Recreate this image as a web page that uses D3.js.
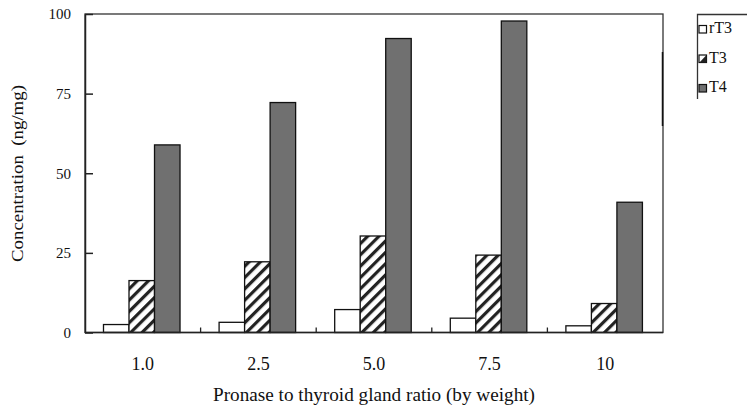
<!DOCTYPE html>
<html>
<head>
<meta charset="utf-8">
<script src="https://cdn.jsdelivr.net/npm/d3@7"></script>
<style>
  body { margin: 0; background: #fff; }
  svg text { font-family: "Liberation Serif", serif !important; fill: #111; }
</style>
</head>
<body>
<div id="chart"></div>
<script>
// data
const ratios = ["1.0", "2.5", "5.0", "7.5", "10"];
const seriesNames = ["rT3", "T3", "T4"];
const rT3 = [2.5, 3.2, 7.2, 4.5, 2.1];
const T3 = [16.3, 22.2, 30.3, 24.3, 9.1];
const T4 = [58.9, 72.2, 92.3, 97.8, 40.9];
const yTicks = [0, 25, 50, 75, 100];

const seriesValues = { rT3: rT3, T3: T3, T4: T4 };

const width = 747, height = 410;
const margin = { top: 14, left: 85, right: 84, bottom: 77.5 };
const innerWidth = width - margin.left - margin.right;
const innerHeight = height - margin.top - margin.bottom;

const svg = d3.select("#chart").append("svg")
    .attr("width", width)
    .attr("height", height)
    .style("font-family", "'Liberation Serif', serif");

// hatch pattern for T3
const defs = svg.append("defs");
const pat = defs.append("pattern")
    .attr("id", "hatch")
    .attr("patternUnits", "userSpaceOnUse")
    .attr("width", 8).attr("height", 8)
    .attr("patternTransform", "rotate(45)");
pat.append("rect").attr("width", 8).attr("height", 8).attr("fill", "#fff");
pat.append("rect").attr("x", 0).attr("width", 3.2).attr("height", 8).attr("fill", "#222");

const fills = { rT3: "#fff", T3: "url(#hatch)", T4: "#707070" };

const g = svg.append("g").attr("transform", `translate(${margin.left},${margin.top})`);

// scales
const x0 = d3.scaleBand().domain(ratios).range([0, innerWidth]).padding(0);
const x1 = d3.scaleBand().domain(seriesNames)
    .range([x0.bandwidth() * 0.16, x0.bandwidth() * 0.822]).padding(0);
const y = d3.scaleLinear().domain([0, 100]).range([innerHeight, 0]);

// bars
const groups = g.selectAll("g.grp")
    .data(ratios)
    .enter().append("g")
    .attr("class", "grp")
    .attr("transform", d => `translate(${x0(d)},0)`);

groups.selectAll("rect")
    .data((d, i) => seriesNames.map(s => ({ s: s, v: seriesValues[s][i] })))
    .enter().append("rect")
    .attr("x", d => x1(d.s))
    .attr("y", d => y(d.v))
    .attr("width", x1.bandwidth())
    .attr("height", d => innerHeight - y(d.v))
    .attr("fill", d => fills[d.s])
    .attr("stroke", "#111")
    .attr("stroke-width", 1.3);

// frame
g.append("rect")
    .attr("width", innerWidth)
    .attr("height", innerHeight)
    .attr("fill", "none")
    .attr("stroke", "#333")
    .attr("stroke-width", 1.3);

// small thicker piece on the right border as in the original
g.append("line")
    .attr("x1", innerWidth - 0.5).attr("x2", innerWidth - 0.5)
    .attr("y1", 38).attr("y2", 112)
    .attr("stroke", "#111").attr("stroke-width", 1.5);

// y axis
const yAxis = d3.axisLeft(y).tickValues(yTicks).tickSizeInner(-8).tickSizeOuter(0).tickPadding(14);
const ya = g.append("g").call(yAxis).attr("font-family", null).attr("font-size", null);
ya.select(".domain").attr("stroke", "#222").attr("stroke-width", 1.5);
ya.selectAll(".tick line").attr("stroke", "#222").attr("stroke-width", 1.5);
ya.selectAll(".tick text").style("font-size", "15px");

// x axis: boundary ticks between groups
const xa = g.append("g").attr("transform", `translate(0,${innerHeight})`);
xa.append("line").attr("x1", 0).attr("x2", innerWidth).attr("stroke", "#222").attr("stroke-width", 1.5);
xa.selectAll("line.sep")
    .data(ratios.slice(1))
    .enter().append("line")
    .attr("class", "sep")
    .attr("x1", d => x0(d)).attr("x2", d => x0(d))
    .attr("y1", 0).attr("y2", -5)
    .attr("stroke", "#222").attr("stroke-width", 1.3);
xa.selectAll("text")
    .data(ratios)
    .enter().append("text")
    .attr("x", d => x0(d) + x0.bandwidth() / 2)
    .attr("y", 37)
    .attr("text-anchor", "middle")
    .style("font-size", "18px")
    .text(d => d);

// axis titles
svg.append("text")
    .attr("x", 374)
    .attr("y", 401)
    .attr("text-anchor", "middle")
    .attr("textLength", 322)
    .attr("lengthAdjust", "spacingAndGlyphs")
    .style("font-size", "18px")
    .text("Pronase to thyroid gland ratio (by weight)");

svg.append("text")
    .attr("transform", `translate(23,173.5) rotate(-90)`)
    .attr("text-anchor", "middle")
    .attr("textLength", 177)
    .attr("lengthAdjust", "spacingAndGlyphs")
    .style("font-size", "17px")
    .style("white-space", "pre")
    .text("Concentration  (ng/mg)");

// legend
const lg = svg.append("g").attr("transform", "translate(697,14)");
lg.append("path")
    .attr("d", "M60,0.5H0.5V85")
    .attr("fill", "none").attr("stroke", "#333").attr("stroke-width", 1.3);
const items = lg.selectAll("g.item")
    .data(seriesNames)
    .enter().append("g")
    .attr("class", "item")
    .attr("transform", (d, i) => `translate(2,${15 + i * 29.5})`);
items.append("rect")
    .attr("x", 0).attr("y", -3.5)
    .attr("width", 7.5).attr("height", 7.5)
    .attr("fill", d => d === "T3" ? "#fff" : fills[d])
    .attr("stroke", "#111").attr("stroke-width", 1.2);
items.filter(d => d === "T3").append("path")
    .attr("d", "M0.5,4L7.5,-3.5V4Z")
    .attr("fill", "#222");
items.append("text")
    .attr("x", 10).attr("y", 4)
    .style("font-size", "16px")
    .text(d => d);
</script>
</body>
</html>
